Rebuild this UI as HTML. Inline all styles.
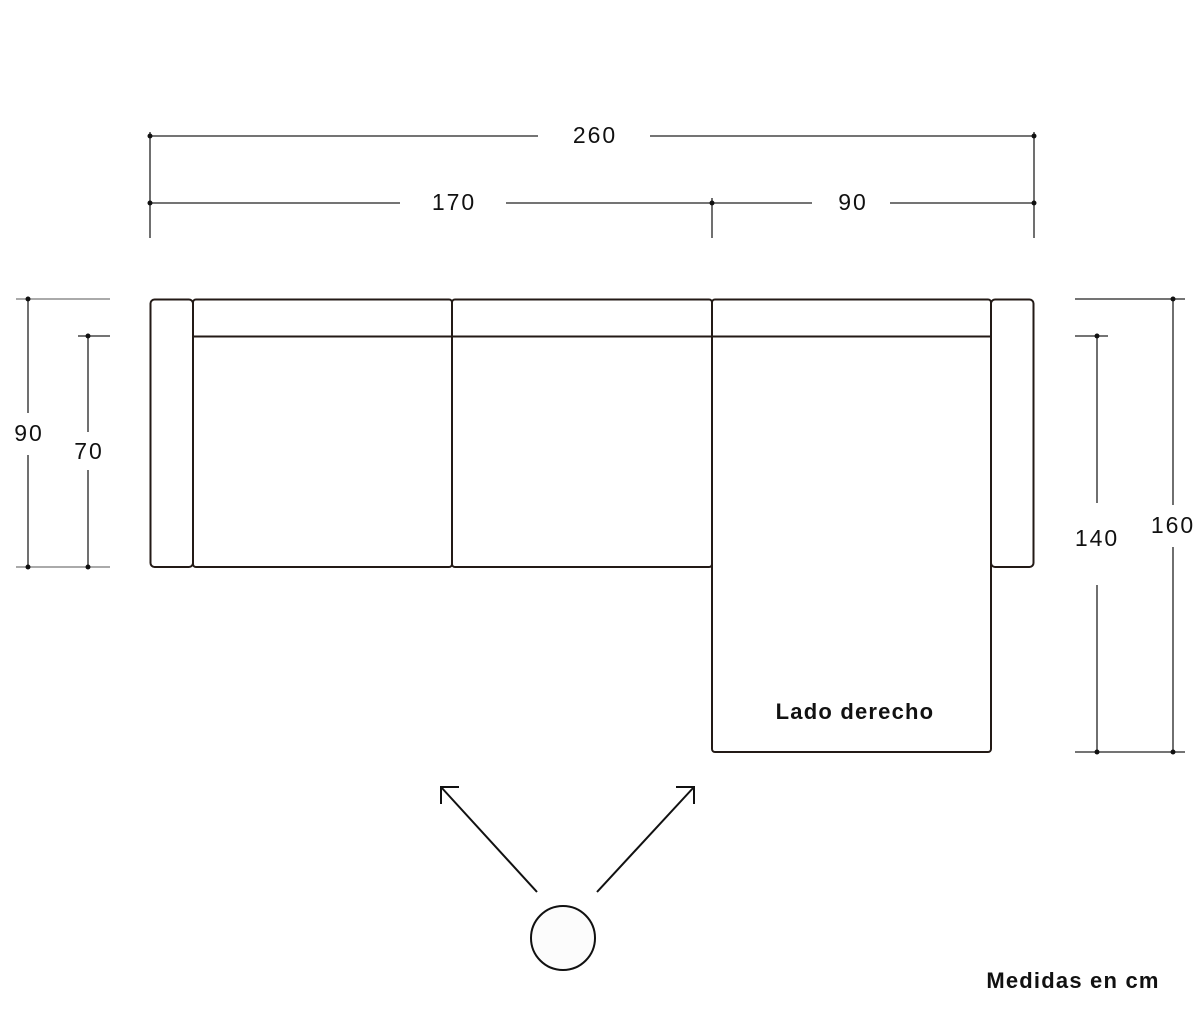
<!DOCTYPE html>
<html><head><meta charset="utf-8"><style>
html,body{margin:0;padding:0;background:#fff;width:1200px;height:1028px;overflow:hidden}
svg{display:block}
text{font-family:"Liberation Sans",sans-serif;fill:#111}
</style></head><body>
<svg width="1200" height="1028" viewBox="0 0 1200 1028">
<g stroke="#222" stroke-width="1.3" fill="none">
<line x1="150" y1="136" x2="538" y2="136"/><line x1="650" y1="136" x2="1034" y2="136"/>
<line x1="150" y1="203" x2="400" y2="203"/><line x1="506" y1="203" x2="712" y2="203"/>
<line x1="712" y1="203" x2="812" y2="203"/><line x1="890" y1="203" x2="1034" y2="203"/>
<line x1="150" y1="132" x2="150" y2="238"/><line x1="712" y1="198" x2="712" y2="238"/><line x1="1034" y1="132" x2="1034" y2="238"/>
<line x1="16" y1="299" x2="110" y2="299" stroke="#777"/><line x1="16" y1="567" x2="110" y2="567" stroke="#777"/>
<line x1="78" y1="336" x2="110" y2="336"/>
<line x1="28" y1="299" x2="28" y2="413"/><line x1="28" y1="455" x2="28" y2="567"/>
<line x1="88" y1="336" x2="88" y2="432"/><line x1="88" y1="470" x2="88" y2="567"/>
<line x1="1075" y1="299" x2="1185" y2="299"/><line x1="1075" y1="752" x2="1185" y2="752"/>
<line x1="1075" y1="336" x2="1108" y2="336"/>
<line x1="1173" y1="299" x2="1173" y2="505"/><line x1="1173" y1="547" x2="1173" y2="752"/>
<line x1="1097" y1="336" x2="1097" y2="503"/><line x1="1097" y1="585" x2="1097" y2="752"/>
</g>
<g fill="#111">
<circle cx="150" cy="136" r="2.5"/><circle cx="1034" cy="136" r="2.5"/>
<circle cx="150" cy="203" r="2.5"/><circle cx="712" cy="203" r="2.5"/><circle cx="1034" cy="203" r="2.5"/>
<circle cx="28" cy="299" r="2.5"/><circle cx="28" cy="567" r="2.5"/><circle cx="88" cy="336" r="2.5"/><circle cx="88" cy="567" r="2.5"/>
<circle cx="1173" cy="299" r="2.5"/><circle cx="1173" cy="752" r="2.5"/><circle cx="1097" cy="336" r="2.5"/><circle cx="1097" cy="752" r="2.5"/>
</g>
<g stroke="#231a16" stroke-width="2" fill="none">
<rect x="150.5" y="299.5" width="42.5" height="267.5" rx="4"/>
<rect x="193" y="299.5" width="259" height="267.5" rx="3"/>
<rect x="452" y="299.5" width="260" height="267.5" rx="3"/>
<rect x="712" y="299.5" width="279" height="452.5" rx="3"/>
<rect x="991" y="299.5" width="42.5" height="267.5" rx="4"/>
<line x1="193" y1="336.5" x2="991" y2="336.5"/>
</g>
<g stroke="#111" stroke-width="2" fill="none">
<line x1="537" y1="892" x2="441" y2="787"/><polyline points="459,787 441,787 441,804"/>
<line x1="597" y1="892" x2="694" y2="787"/><polyline points="676,787 694,787 694,804"/>
<circle cx="563" cy="938" r="32" fill="#fcfcfc"/>
</g>
<g font-size="23" text-anchor="middle" letter-spacing="2">
<text x="595" y="143">260</text>
<text x="454" y="210">170</text>
<text x="853" y="210">90</text>
<text x="29" y="441">90</text>
<text x="89" y="459">70</text>
<text x="1097" y="546">140</text>
<text x="1173" y="533">160</text>
</g>
<g font-size="22" text-anchor="middle" font-weight="bold" letter-spacing="1.2">
<text x="855" y="719">Lado derecho</text>
<text x="1073" y="988">Medidas en cm</text>
</g>
</svg>
</body></html>
